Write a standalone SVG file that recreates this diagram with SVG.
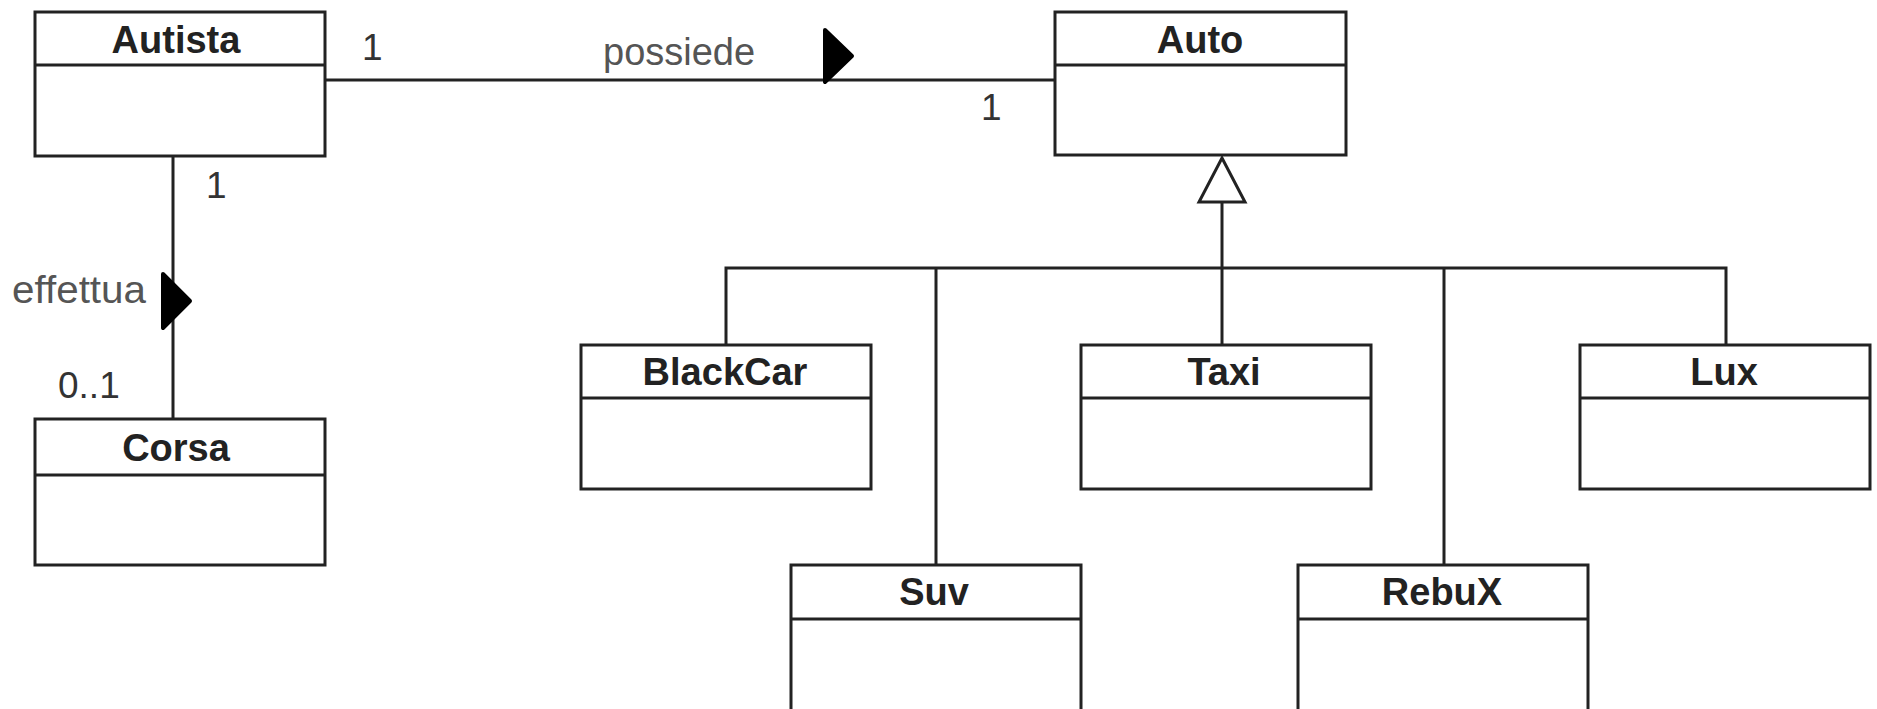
<svg xmlns="http://www.w3.org/2000/svg" width="1877" height="709" viewBox="0 0 1877 709">
<style>
.box{fill:#fff;stroke:#222;stroke-width:3}
.div{stroke:#222;stroke-width:3}
.title{font-family:"Liberation Sans",Arial,sans-serif;font-weight:bold;font-size:38px;fill:#222;text-anchor:middle}
.lbl{font-family:"Liberation Sans",Arial,sans-serif;font-size:38px;fill:#555}
.mult{font-family:"Liberation Sans",Arial,sans-serif;font-size:37px;fill:#333}
.ln{stroke:#222;stroke-width:3;fill:none}
.dir{fill:#000;stroke:#000;stroke-width:4;stroke-linejoin:round}
.gen{fill:#fff;stroke:#222;stroke-width:3;stroke-linejoin:miter}
</style>
<rect width="1877" height="709" fill="#fff"/>
<g id="connectors">
  <line class="ln" x1="325" y1="80" x2="1055" y2="80"/>
  <polygon class="dir" points="825,30 852,56 825,82"/>
  <text class="lbl" x="603" y="65">possiede</text>
  <text class="mult" x="362" y="60">1</text>
  <text class="mult" x="981" y="120">1</text>
  <line class="ln" x1="173" y1="156" x2="173" y2="419"/>
  <polygon class="dir" points="163,274 190,301 163,328"/>
  <text class="lbl" x="12" y="303" textLength="134" lengthAdjust="spacingAndGlyphs">effettua</text>
  <text class="mult" x="206" y="198">1</text>
  <text class="mult" x="58" y="398">0..1</text>
  <line class="ln" x1="1222" y1="202" x2="1222" y2="345"/>
  <polygon class="gen" points="1222,158 1245,202 1199,202"/>
  <polyline class="ln" points="726,345 726,268 1726,268 1726,345"/>
  <line class="ln" x1="936" y1="268" x2="936" y2="565"/>
  <line class="ln" x1="1444" y1="268" x2="1444" y2="565"/>
</g>
<g id="autista">
  <rect class="box" x="35" y="12" width="290" height="144"/>
  <line class="div" x1="35" y1="65" x2="325" y2="65"/>
  <text class="title" x="176" y="53">Autista</text>
</g>
<g id="corsa">
  <rect class="box" x="35" y="419" width="290" height="146"/>
  <line class="div" x1="35" y1="475" x2="325" y2="475"/>
  <text class="title" x="176" y="461">Corsa</text>
</g>
<g id="auto">
  <rect class="box" x="1055" y="12" width="291" height="143"/>
  <line class="div" x1="1055" y1="65" x2="1346" y2="65"/>
  <text class="title" x="1200" y="53">Auto</text>
</g>
<g id="blackcar">
  <rect class="box" x="581" y="345" width="290" height="144"/>
  <line class="div" x1="581" y1="398" x2="871" y2="398"/>
  <text class="title" x="725" y="385">BlackCar</text>
</g>
<g id="taxi">
  <rect class="box" x="1081" y="345" width="290" height="144"/>
  <line class="div" x1="1081" y1="398" x2="1371" y2="398"/>
  <text class="title" x="1224" y="385">Taxi</text>
</g>
<g id="lux">
  <rect class="box" x="1580" y="345" width="290" height="144"/>
  <line class="div" x1="1580" y1="398" x2="1870" y2="398"/>
  <text class="title" x="1724" y="385">Lux</text>
</g>
<g id="suv">
  <rect class="box" x="791" y="565" width="290" height="160"/>
  <line class="div" x1="791" y1="619" x2="1081" y2="619"/>
  <text class="title" x="934" y="605">Suv</text>
</g>
<g id="rebux">
  <rect class="box" x="1298" y="565" width="290" height="160"/>
  <line class="div" x1="1298" y1="619" x2="1588" y2="619"/>
  <text class="title" x="1442" y="605">RebuX</text>
</g>
</svg>
